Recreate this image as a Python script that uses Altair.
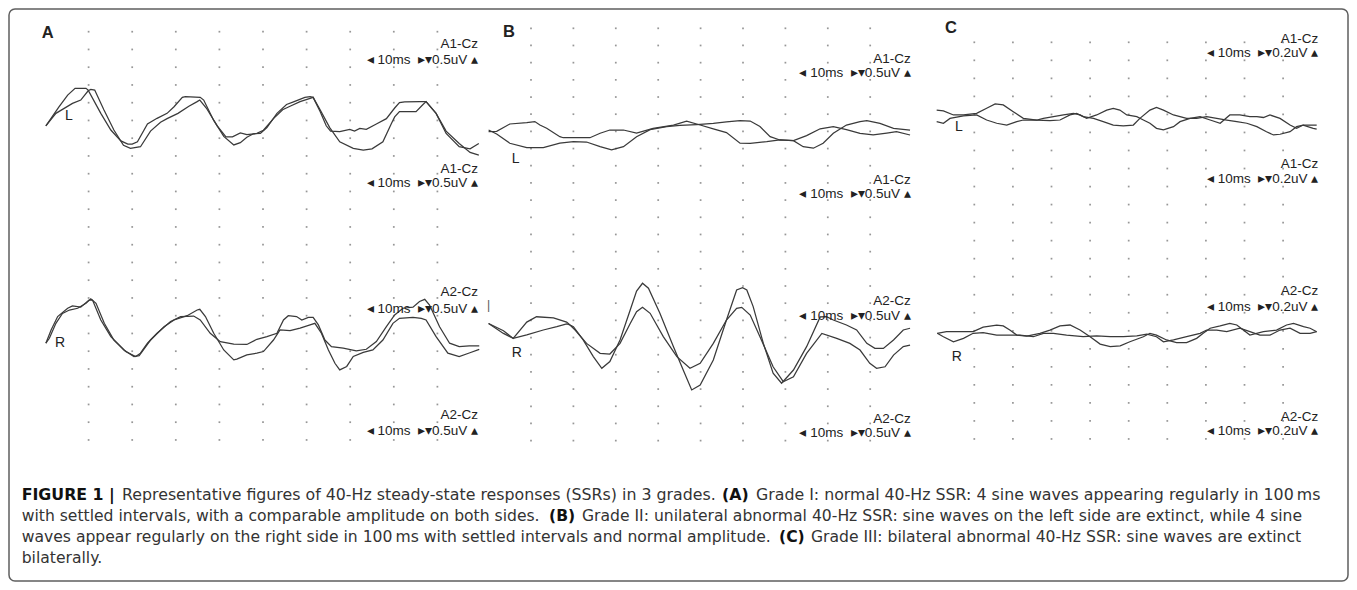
import altair as alt
import pandas as pd

# ---------------- values ----------------
# each trace: (time in ms across the 100-ms sweep, level in grid divisions counted down from the top dot row)
A_L1 = [(0.2,5.31),(3.2,4.23),(5.2,3.57),(6.9,3.19),(9.4,3.19),(9.9,3.29),(12.8,4.6),(15.1,5.54),(17.4,6.15),
        (19.0,6.33),(20.0,6.33),(21.2,6.2),(23.5,5.2),(25.7,4.88),(28.0,4.6),(29.6,4.23),(31.5,3.7),(32.2,3.66),
        (35.6,3.7),(36.4,3.85),(38.7,5.0),(41.0,5.9),(43.3,6.38),(44.8,6.25),(46.3,5.95),(47.8,5.75),(49.4,5.73),
        (50.9,5.4),(53.2,4.6),(55.4,4.1),(57.0,3.95),(59.6,3.7),(60.8,3.66),(61.5,3.7),(63.1,4.4),(65.3,5.4),
        (67.6,6.2),(70.7,6.57),(73.0,6.67),(75.0,6.6),(77.5,6.2),(79.4,5.2),(80.2,4.8),(81.3,4.5),(85.1,4.5),
        (86.7,4.1),(87.4,3.94),(89.7,4.6),(92.0,5.73),(95.0,6.48),(97.5,6.6),(99.5,6.3)]
A_L2 = [(0.2,5.31),(2.5,4.6),(4.4,4.32),(6.3,4.04),(8.2,3.85),(9.9,3.33),(10.5,3.25),(11.4,3.29),(13.5,4.4),
        (15.8,5.54),(18.0,6.4),(19.6,6.57),(21.9,6.48),(24.2,5.6),(26.5,5.1),(28.0,4.9),(30.5,4.6),(33.0,4.2),
        (34.9,3.94),(35.5,3.85),(37.0,4.3),(39.5,5.3),(41.5,5.92),(43.0,5.92),(44.8,5.7),(46.3,5.8),(48.6,5.73),
        (50.1,5.55),(52.4,4.9),(54.5,4.4),(56.2,4.2),(58.5,3.94),(60.8,3.76),(61.5,3.7),(63.1,4.5),(64.5,5.3),
        (65.5,5.6),(67.6,5.63),(69.9,5.5),(71.0,5.6),(72.2,5.45),(73.7,5.5),(76.0,5.2),(78.3,4.9),(80.2,4.3),
        (81.3,4.0),(82.5,3.95),(86.0,3.94),(87.4,3.94),(89.7,4.6),(92.0,5.6),(95.0,6.3),(97.5,6.8),(99.5,6.95)]
A_R1 = [(0.2,17.55),(1.4,16.8),(2.9,16.05),(5.2,15.58),(6.3,15.45),(8.2,15.52),(10.1,15.12),(10.9,15.12),
        (12.8,16.24),(15.1,17.18),(18.1,17.93),(20.4,18.3),(21.6,18.25),(24.2,17.37),(27.3,16.62),(29.6,16.24),
        (32.6,16.0),(34.9,15.68),(35.5,15.64),(36.8,16.05),(38.7,16.99),(41.0,17.93),(43.3,18.49),(44.0,18.45),
        (46.3,18.21),(48.6,18.11),(50.1,18.02),(52.4,17.37),(53.9,16.8),(56.2,16.84),(58.5,16.7),(60.8,16.52),
        (61.9,16.43),(63.4,16.99),(65.0,17.93),(66.5,18.68),(67.6,19.05),(69.2,18.86),(70.7,18.3),(73.0,18.07),
        (75.2,17.93),(77.5,17.37),(79.8,16.43),(81.3,16.15),(84.4,16.1),(86.3,16.15),(87.4,16.24),(89.7,17.18),
        (92.4,18.11),(95.0,18.3),(97.3,18.1),(99.6,17.9)]
A_R2 = [(0.2,17.55),(1.0,17.27),(2.5,16.43),(4.0,15.87),(5.6,15.68),(7.5,15.58),(9.4,15.3),(10.5,15.05),
        (11.7,15.3),(13.6,16.43),(15.8,17.37),(18.5,18.02),(20.8,18.3),(21.9,18.11),(23.5,17.55),(25.7,16.99),
        (28.8,16.33),(31.1,16.05),(34.1,16.02),(35.6,16.24),(37.9,16.99),(40.2,17.46),(43.3,17.6),(46.3,17.62),
        (48.6,17.33),(50.9,17.18),(53.2,16.99),(54.7,16.24),(55.8,16.0),(57.7,16.05),(58.9,16.24),(60.4,16.1),
        (61.5,16.1),(62.7,16.52),(64.2,17.37),(65.7,17.74),(68.4,17.83),(71.4,17.98),(73.7,17.89),(76.0,17.46),
        (78.3,16.62),(80.2,15.96),(82.1,15.58),(84.4,15.52),(85.9,15.2),(87.1,15.08),(88.2,15.4),(90.5,16.62),
        (92.8,17.55),(95.0,17.74),(97.3,17.7),(99.6,17.7)]

B_L1 = [(0,6.02),(1.9,6.0),(5.0,5.57),(9.0,5.49),(10.9,5.43),(12.1,5.63),(13.7,5.82),(16.8,6.31),(17.6,6.37),
        (23.9,6.37),(26.3,6.11),(28.6,5.92),(31.8,5.92),(34.9,6.1),(38.8,5.82),(43.6,5.63),(46.7,5.4),(49.9,5.63),
        (53.0,5.85),(56.1,6.07),(59.3,6.69),(61.7,6.7),(65.6,6.6),(68.7,6.5),(71.9,6.54),(75.0,6.25),(78.2,5.85),
        (81.3,5.72),(84.4,5.9),(87.6,6.11),(90.7,6.2),(93.9,6.1),(96.2,6.02),(99.4,6.21)]
B_L2 = [(0,5.92),(1.9,6.15),(5.0,6.69),(9.0,6.95),(12.9,6.95),(16.8,6.69),(20.0,6.6),(23.1,6.62),(26.3,6.89),
        (29.0,7.08),(31.8,6.89),(34.9,6.31),(38.1,5.9),(42.0,5.72),(45.1,5.65),(49.1,5.6),(53.0,5.53),(56.1,5.45),
        (59.3,5.38),(61.7,5.4),(64.0,5.72),(66.4,6.31),(68.7,6.5),(71.9,6.54),(74.2,6.89),(76.6,6.98),(78.9,6.69),
        (81.3,6.11),(84.4,5.63),(87.6,5.43),(89.2,5.38),(92.3,5.53),(95.5,5.82),(99.4,5.92)]
B_R1 = [(0,17.18),(3.5,17.6),(5.8,18.05),(9.0,17.1),(11.3,16.79),(15.3,16.85),(18.4,17.1),(19.2,17.27),
        (20.0,17.37),(22.3,18.14),(24.7,19.11),(26.7,19.79),(28.6,19.4),(31.0,18.14),(33.4,16.4),(34.9,15.3),
        (36.3,14.84),(37.7,15.13),(40.4,16.59),(43.6,18.53),(45.9,19.89),(47.9,21.05),(49.9,20.76),(53.0,19.31),
        (56.1,16.98),(58.5,15.23),(59.9,15.1),(60.9,15.23),(62.4,16.2),(64.8,18.34),(67.1,20.08),(69.1,20.66),
        (71.9,19.89),(75.0,18.53),(78.2,16.8),(79.7,16.79),(81.3,16.98),(84.4,17.27),(86.8,17.56),(89.2,18.34),
        (91.1,18.63),(93.1,18.63),(95.5,18.14),(97.8,17.56),(99.4,17.46)]
B_R2 = [(0,17.18),(3.5,17.76),(5.8,18.05),(9.0,17.85),(12.9,17.56),(16.1,17.37),(18.4,17.2),(19.2,17.27),
        (20.4,17.56),(23.1,18.34),(26.3,18.92),(28.6,18.96),(31.0,18.34),(33.4,17.18),(34.9,16.5),(36.3,16.24),
        (38.1,16.59),(41.2,17.95),(44.4,19.11),(47.5,19.79),(49.9,19.5),(53.0,18.34),(56.1,16.98),(58.5,16.3),
        (59.7,16.24),(61.7,16.69),(64.0,17.95),(67.1,19.7),(69.5,20.57),(71.9,20.28),(75.0,18.92),(78.6,17.76),
        (82.1,18.05),(85.2,18.34),(87.6,18.73),(89.9,19.5),(91.5,19.79),(93.5,19.7),(95.5,19.02),(97.8,18.53),
        (99.4,18.44)]

C_L1 = [(0.25,3.76),(2.0,3.8),(4.6,4.03),(7.2,4.03),(10.6,3.94),(13.2,3.66),(15.4,3.42),(17.5,3.47),(20.1,3.85),
        (22.7,4.22),(26.2,4.31),(29.6,4.35),(32.2,4.31),(34.8,4.03),(36.5,3.94),(38.2,4.12),(40.9,4.22),(43.4,4.4),
        (46.0,4.59),(48.6,4.64),(51.2,4.59),(52.9,4.22),(55.5,3.76),(57.2,3.61),(59.0,3.76),(61.6,4.03),(63.3,4.12),
        (65.0,4.22),(67.6,4.22),(70.2,4.12),(72.8,4.22),(75.4,4.31),(78.0,4.4),(80.6,4.49),(83.2,4.68),(85.7,4.96),
        (87.5,5.14),(89.2,5.1),(91.8,4.96),(93.5,4.68),(95.2,4.59),(98.7,4.59)]
C_L2 = [(0.25,4.4),(2.0,4.49),(3.7,4.22),(7.2,4.08),(10.6,4.03),(13.2,4.31),(15.8,4.49),(18.4,4.59),(21.0,4.4),
        (22.7,4.31),(26.2,4.31),(27.9,4.22),(30.5,4.12),(33.1,4.03),(35.7,3.94),(37.4,4.03),(39.1,4.22),(41.7,4.03),
        (44.3,3.76),(46.0,3.66),(47.7,3.76),(49.5,4.03),(52.1,4.12),(53.8,4.31),(55.5,4.49),(57.2,4.77),(59.0,4.86),
        (61.6,4.68),(63.3,4.4),(65.9,4.22),(68.5,4.12),(71.1,4.31),(73.7,4.49),(76.2,4.03),(78.8,4.03),(81.4,4.12),
        (83.2,4.12),(84.9,4.17),(86.6,4.03),(89.2,4.22),(91.8,4.59),(93.5,4.77),(95.2,4.59),(97.8,4.77),(98.7,4.82)]
C_R1 = [(0.4,16.14),(2.8,16.05),(6.3,16.05),(9.7,16.05),(12.3,15.8),(15.8,15.68),(17.5,15.73),(19.2,15.96),
        (21.0,16.24),(23.6,16.3),(27.0,16.14),(29.6,15.96),(32.2,15.73),(34.8,15.68),(37.4,15.96),(40.0,16.33),
        (42.6,16.74),(45.2,16.88),(47.8,16.84),(50.3,16.61),(53.8,16.33),(55.5,16.14),(57.2,16.24),(59.8,16.51),
        (62.4,16.66),(65.0,16.66),(67.6,16.42),(69.3,16.14),(71.1,15.86),(73.7,15.73),(76.2,15.59),(78.0,15.68),
        (79.7,15.96),(81.4,16.24),(84.9,16.05),(88.3,15.96),(90.9,15.68),(92.7,15.59),(95.3,15.77),(97.0,15.86),
        (98.7,16.05)]
C_R2 = [(0.4,16.14),(2.0,16.33),(4.6,16.61),(7.2,16.42),(9.7,16.14),(12.3,16.1),(15.8,16.24),(19.2,16.24),
        (21.8,16.24),(25.3,16.33),(27.9,16.14),(30.5,16.14),(33.9,16.24),(38.2,16.33),(41.7,16.28),(45.2,16.33),
        (48.6,16.33),(52.1,16.28),(54.7,16.19),(57.2,16.33),(59.0,16.61),(61.6,16.51),(65.0,16.33),(68.5,16.14),
        (70.2,15.96),(72.8,15.96),(75.4,16.05),(78.8,15.86),(81.4,16.05),(84.0,16.24),(86.6,16.24),(89.2,15.96),
        (91.8,15.86),(94.4,16.14),(97.0,16.14),(98.7,16.05)]

GRID_MS = [10, 20, 30, 40, 50, 60, 70, 80, 90]          # dotted time divisions (10 ms each)
SCALE_A = "\u25c2 10ms \u00a0\u25b8\u25be0.5uV \u25b4"
SCALE_C = "\u25c2 10ms \u00a0\u25b8\u25be0.2uV \u25b4"

CAPTION = [
    [("FIGURE 1 |", True), ("Representative figures of 40-Hz steady-state responses (SSRs) in 3 grades.", False),
     ("(A)", True), ("Grade I: normal 40-Hz SSR: 4 sine waves appearing regularly in 100\u2009ms", False)],
    [("with settled intervals, with a comparable amplitude on both sides.", False), ("(B)", True),
     ("Grade II: unilateral abnormal 40-Hz SSR: sine waves on the left side are extinct, while 4 sine", False)],
    [("waves appear regularly on the right side in 100\u2009ms with settled intervals and normal amplitude.", False),
     ("(C)", True), ("Grade III: bilateral abnormal 40-Hz SSR: sine waves are extinct", False)],
    [("bilaterally.", False)],
]

# ---------------- layout (page pixels) ----------------
PAD = 1
W, H = 1339, 572
ORG = 8 + PAD          # page coordinate of the plot origin

PANELS = [
    dict(x0=45.0, ppm=4.36, row0=31.7, sp=17.75, nrows=24, traces=[A_L1, A_L2, A_R1, A_R2]),
    dict(x0=488.6, ppm=4.24, row0=28.3, sp=17.18, nrows=25, traces=[B_L1, B_L2, B_R1, B_R2]),
    dict(x0=935.7, ppm=3.86, row0=42.3, sp=18.03, nrows=23, traces=[C_L1, C_L2, C_R1, C_R2]),
]
CAP_X = [[21.7, 122.0, 722.0, 756.0], [21.7, 549.0, 582.0], [21.7, 779.0, 811.0], [21.7]]
CAP_Y = [500, 521, 542, 563]
CAP_SIZE = [15.8, 15.6, 15.6, 15.6]

TRACE_COLOR = "#3a3a3a"
DOT_COLOR = "#8c8c8c"
TEXT_COLOR = "#222222"
LABEL_FONT = "Liberation Sans"
LABEL_SIZE = 13.5
CAP_FONT = "DejaVu Sans"


def txt(s, x, y, size, bold=False, align="left", font=LABEL_FONT, color=TEXT_COLOR):
    return alt.Chart(pd.DataFrame({"t": [s]})).mark_text(
        align=align, baseline="alphabetic", fontSize=size, font=font,
        fontWeight="bold" if bold else "normal", color=color,
    ).encode(text="t:N", x=alt.value(x - ORG), y=alt.value(y - ORG))


layers = []
for p in PANELS:
    xs = alt.Scale(domain=[(ORG - p["x0"]) / p["ppm"], (ORG + W - p["x0"]) / p["ppm"]], nice=False, zero=False)
    ys = alt.Scale(domain=[(ORG - p["row0"]) / p["sp"], (ORG + H - p["row0"]) / p["sp"]], nice=False, zero=False,
                   reverse=True)
    grid = pd.DataFrame([(m, r) for m in GRID_MS for r in range(p["nrows"])], columns=["ms", "div"])
    layers.append(alt.Chart(grid).mark_square(size=3, color=DOT_COLOR, opacity=0.9).encode(
        x=alt.X("ms:Q", scale=xs, axis=None), y=alt.Y("div:Q", scale=ys, axis=None)))
    rows = []
    for ti, tr in enumerate(p["traces"]):
        for i, (m, d) in enumerate(tr):
            rows.append({"trace": ti, "i": i, "ms": m, "div": d})
    layers.append(alt.Chart(pd.DataFrame(rows)).mark_line(color=TRACE_COLOR, strokeWidth=1.25).encode(
        x=alt.X("ms:Q", scale=xs, axis=None), y=alt.Y("div:Q", scale=ys, axis=None),
        detail="trace:N", order="i:Q"))

# panel letters
for s, x, y in [("A", 41.7, 38.3), ("B", 503.0, 37.3), ("C", 945.0, 33.3)]:
    layers.append(txt(s, x, y, 16.5, bold=True))

# channel / scale annotations
ANN = [
    (478.0, SCALE_A, [("A1-Cz", 48.3, 64.3), ("A1-Cz", 172.7, 187.3), ("A2-Cz", 296.0, 312.7), ("A2-Cz", 419.3, 435.0)]),
    (910.7, SCALE_A, [("A1-Cz", 63.3, 77.3), ("A1-Cz", 184.3, 198.3), ("A2-Cz", 305.0, 320.0), ("A2-Cz", 422.5, 436.7)]),
    (1318.3, SCALE_C, [("A1-Cz", 43.3, 57.3), ("A1-Cz", 168.3, 183.3), ("A2-Cz", 295.0, 310.7), ("A2-Cz", 421.0, 435.0)]),
]
for rx, sc, sets in ANN:
    for name, y1, y2 in sets:
        layers.append(txt(name, rx, y1, LABEL_SIZE, align="right"))
        layers.append(txt(sc, rx, y2, LABEL_SIZE, align="right"))

# side letters
for s, x, y in [("L", 65.0, 120.0), ("R", 55.0, 347.0), ("L", 511.7, 163.0), ("R", 511.7, 357.0),
                ("L", 955.0, 130.7), ("R", 951.7, 360.7)]:
    layers.append(txt(s, x, y, 14))
layers.append(txt("|", 487.0, 309.0, 12, color="#555555"))

# caption
for line, xs_, y, fs in zip(CAPTION, CAP_X, CAP_Y, CAP_SIZE):
    for (s, bold), x in zip(line, xs_):
        layers.append(txt(s, x, y, fs, bold=bold, font=CAP_FONT, color="#111111" if bold else "#333333"))

chart = alt.layer(*layers).resolve_scale(x="independent", y="independent").properties(
    width=W, height=H, padding=PAD, autosize=alt.AutoSizeParams(type="none"),
    background="white",
).configure_view(stroke="#5f5f5f", strokeWidth=1.5, cornerRadius=6)

chart.save("out.html", embed_options={"renderer": "svg", "actions": False})
